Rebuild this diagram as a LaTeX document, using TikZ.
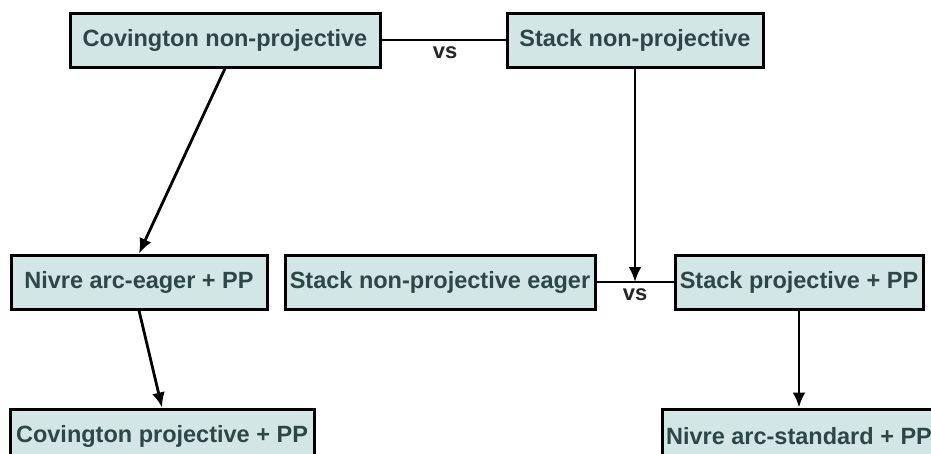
\documentclass[tikz,border=0pt]{standalone}
\usepackage{fontspec}
\setmainfont{Liberation Sans}
\usetikzlibrary{arrows.meta}
\definecolor{boxfill}{HTML}{D2E6E6}
\definecolor{boxtext}{HTML}{2E4646}
\begin{document}
\begin{tikzpicture}[x=1pt,y=-1pt,
  box/.style={draw=black, line width=3pt, fill=boxfill, text=boxtext, inner sep=0pt,
    minimum height=54pt, font=\fontsize{23.5}{28}\selectfont\bfseries},
  conn/.style={line width=2.8pt, draw=black},
  arr/.style={conn, -{Latex[length=15pt,width=13pt]}},
  vslabel/.style={font=\fontsize{22}{26}\selectfont\bfseries, text=black!85}]
\clip (0,0) rectangle (931,453);
\fill[white] (0,0) rectangle (931,453);
\node[box, minimum width=310pt] (A) at (225,40) {Covington non-projective};
\node[box, minimum width=256pt] (B) at (635,40) {Stack non-projective};
\node[box, minimum width=256pt] (C) at (139,282) {Nivre arc-eager + PP};
\node[box, minimum width=310pt] (D) at (440,282) {Stack non-projective eager};
\node[box, minimum width=248pt] (E) at (799,282) {Stack projective + PP};
\node[box, minimum width=304pt] (F) at (162,436) {Covington projective + PP};
\node[box, minimum width=274pt] (G) at (799,436) {Nivre arc-standard + PP};
\draw[conn] (A.east) -- (B.west);
\node[vslabel] (vs1) at (445,53) {vs};
\draw[conn] (D.east) -- (E.west);
\coordinate (mid) at (635,282);
\node[vslabel] (vs2) at (635,295) {vs};
\draw[arr] (B.south) -- (mid);
\draw[arr] (A.south) -- (C.north);
\draw[arr] (C.south) -- (F.north);
\draw[arr] (E.south) -- (G.north);
\end{tikzpicture}
\end{document}
